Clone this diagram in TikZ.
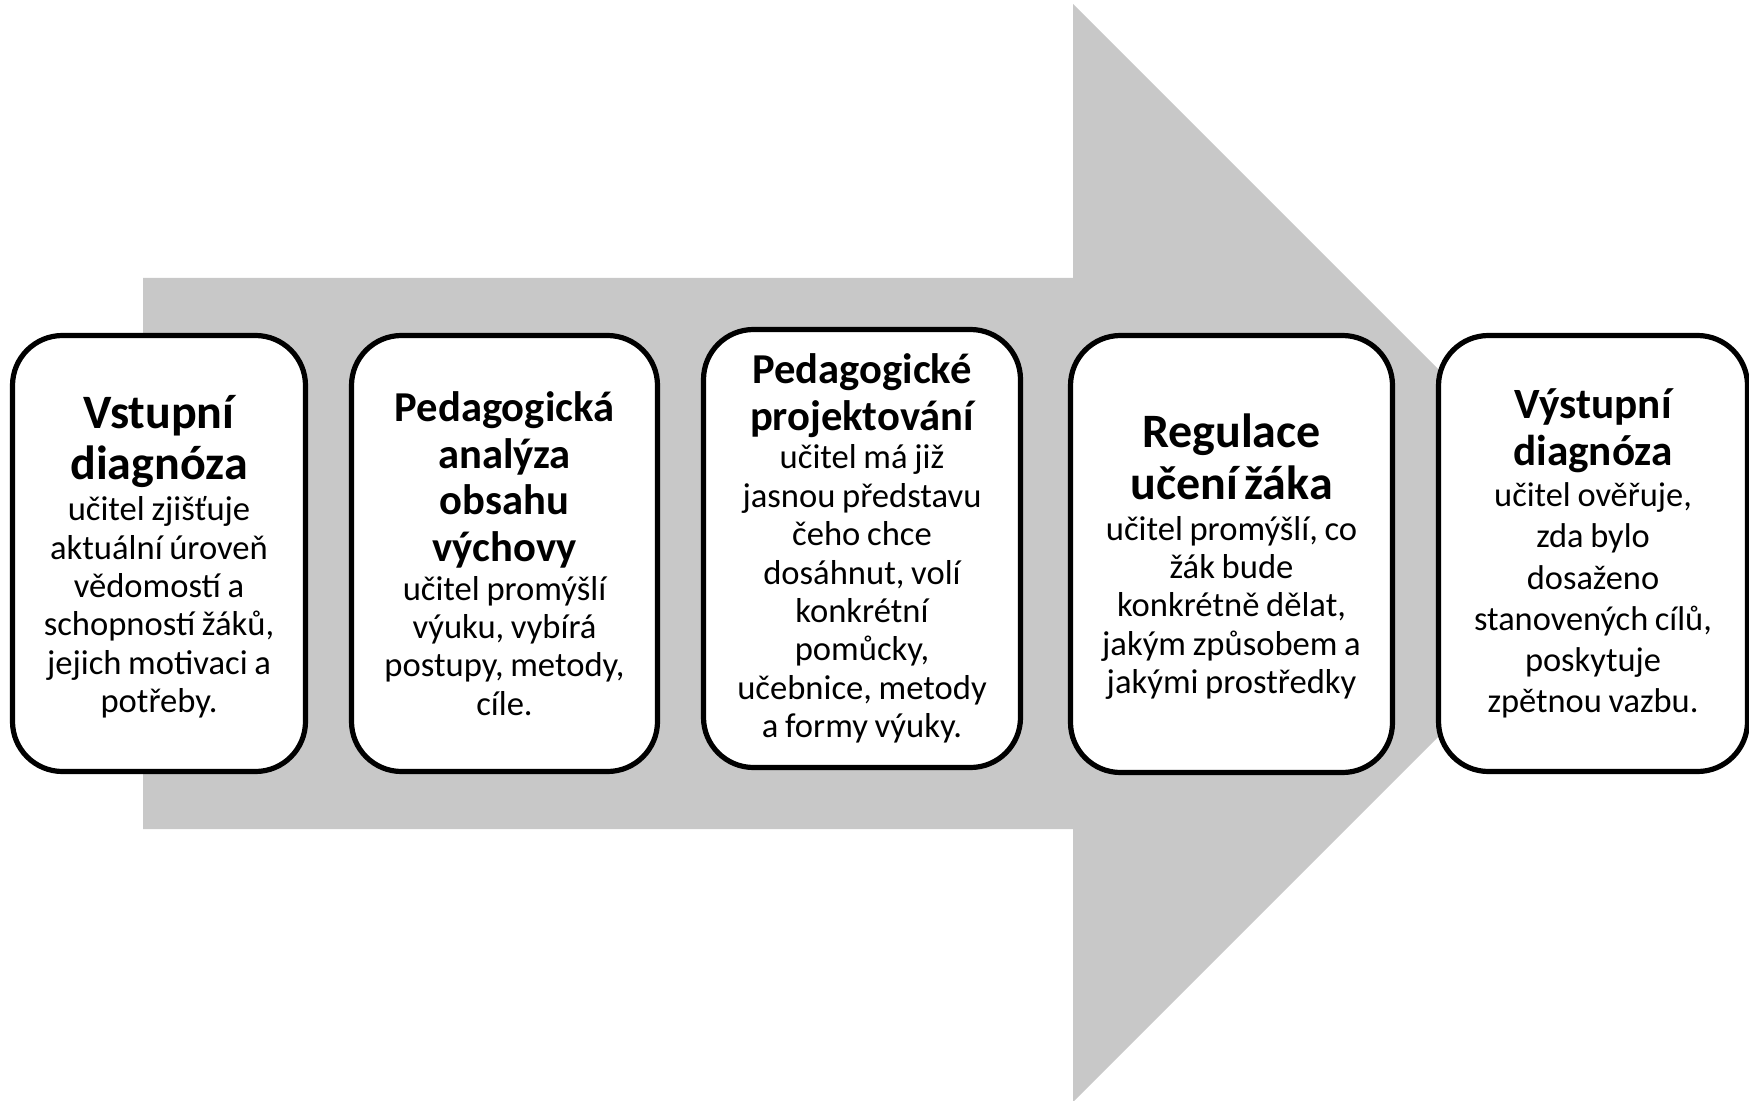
\documentclass[tikz,border=0pt]{standalone}
\usepackage{fontspec}
\setmainfont{Carlito}
\definecolor{arrowgray}{RGB}{200,200,200}
\newcommand{\ttlL}{\bfseries\fontsize{24}{25.6}\selectfont}
\newcommand{\ttlS}{\bfseries\fontsize{21.3}{23.4}\selectfont}
\newcommand{\ttlV}{\bfseries\fontsize{21.6}{23.4}\selectfont}
\newcommand{\bdy}{\fontsize{17.3}{19.2}\selectfont}
\newcommand{\bdyL}{\fontsize{17.2}{20.6}\selectfont}
\begin{document}
\begin{tikzpicture}[x=0.5pt,y=-0.5pt,
  stage/.style={draw=black, line width=2.6pt, fill=white, rounded corners=25pt,
    align=center, inner sep=0pt, minimum height=218pt},
  bigarrow/.style={fill=arrowgray, draw=none}]
\useasboundingbox (0,0) rectangle (1749,1101);
\fill[white] (0,0) rectangle (1749,1101);
% big arrow
\coordinate (a1) at (143,278);
\coordinate (a2) at (1073,278);
\coordinate (a3) at (1073,4);
\coordinate (tip) at (1622,553);
\coordinate (a5) at (1073,1102);
\coordinate (a6) at (1073,829);
\coordinate (a7) at (143,829);
\path[bigarrow] (a1) -- (a2) -- (a3) -- (tip) -- (a5) -- (a6) -- (a7) -- cycle;
% stages
\node[stage, minimum width=146.5pt, text width=142pt] (s1) at (159,553.5)
 {\vskip-5.8pt{\ttlL Vstupní\\diagnóza\par}\vskip1.3pt{\bdy učitel zjišťuje\\aktuální úroveň\\vědomostí a\\schopností žáků,\\jejich motivaci a\\potřeby.\par}};
\node[stage, minimum width=153pt, text width=150pt] (s2) at (504.5,553.5)
 {{\ttlS Pedagogická\\analýza\\obsahu\\výchovy\par}{\bdy učitel promýšlí\\výuku, vybírá\\postupy, metody,\\cíle.\par}};
\node[stage, minimum width=158.5pt, minimum height=219pt, text width=155pt] (s3) at (862,548.5)
 {{\ttlS Pedagogické\\projektování\par}{\bdy učitel má již\\jasnou představu\\čeho chce\\dosáhnut, volí\\konkrétní\\pomůcky,\\učebnice, metody\\a formy výuky.\par}};
\node[stage, minimum width=161pt, minimum height=218.5pt, text width=158pt] (s4) at (1231.5,554)
 {\vskip-5.8pt{\ttlL Regulace\\učení žáka\par}\vskip1.3pt{\bdy učitel promýšlí, co\\žák bude\\konkrétně dělat,\\jakým způsobem a\\jakými prostředky\par}};
\node[stage, minimum width=154.5pt, text width=152pt] (s5) at (1593,553.5)
 {{\ttlV Výstupní\\diagnóza\par}{\bdyL učitel ověřuje,\\zda bylo\\dosaženo\\stanovených cílů,\\poskytuje\\zpětnou vazbu.\par}};
\end{tikzpicture}
\end{document}
